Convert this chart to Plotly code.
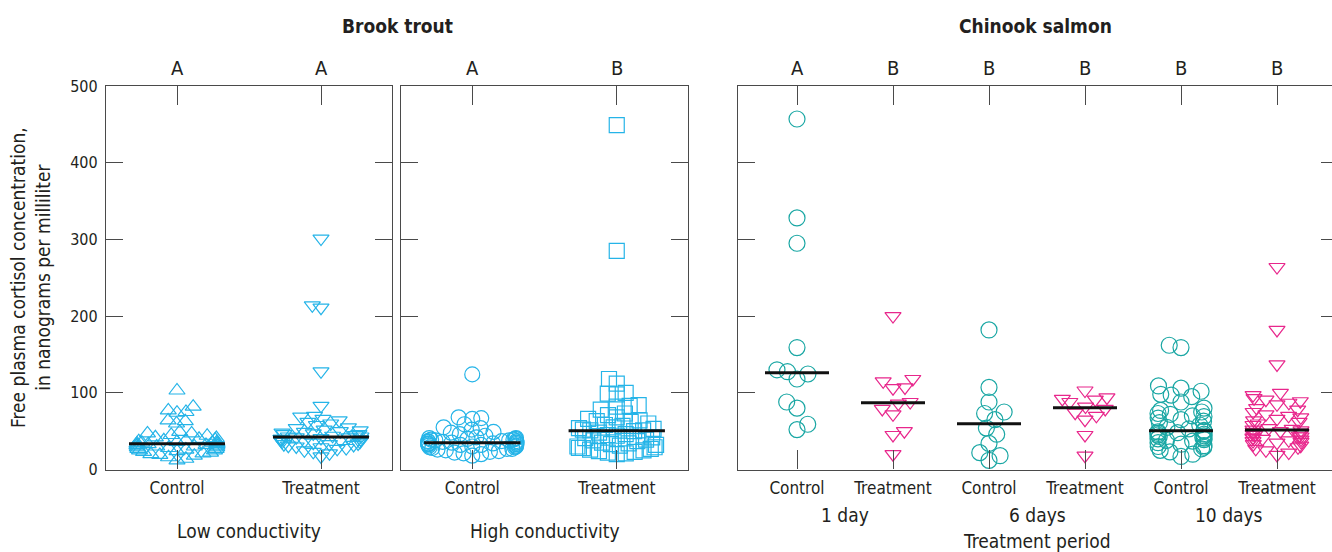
import numpy as np
import plotly.graph_objects as go

# ---------------- data ----------------
treatment_labels = ["Control", "Treatment"]
yticks = [0, 100, 200, 300, 400, 500]

# Brook trout, low conductivity
bt_low_control = [103, 82, 77, 75, 74, 64, 63, 60, 49, 47, 47, 45, 44, 42, 41, 40, 39, 38,
                  38, 37, 36, 36, 35, 35, 34, 34, 33, 33, 32, 32, 31, 31, 30, 30, 29, 29,
                  28, 27, 27, 26, 25, 25, 24, 23, 22, 21, 20, 19, 18, 16, 14, 12]
bt_low_treatment = [301, 214, 211, 128, 83, 70, 69, 66, 64, 62, 60, 58, 55, 54, 52, 51, 50,
                    49, 48, 47, 46, 46, 45, 44, 43, 43, 42, 42, 41, 40, 40, 39, 39, 38, 38,
                    37, 36, 36, 35, 34, 33, 33, 32, 31, 30, 29, 28, 27, 25, 23, 21, 17]
# Brook trout, high conductivity
bt_high_control = [124, 68, 67, 66, 59, 55, 54, 52, 49, 48, 46, 44, 42, 41, 41, 40, 40, 39,
                   39, 38, 38, 37, 37, 37, 36, 36, 35, 35, 35, 34, 34, 33, 33, 33, 32, 32,
                   31, 31, 30, 30, 29, 29, 28, 27, 27, 26, 25, 24, 23, 22, 21, 20, 18]
bt_high_treatment = [449, 285, 118, 112, 100, 99, 98, 84, 83, 82, 78, 73, 71, 68, 66, 64, 63,
                     62, 60, 58, 57, 55, 54, 53, 52, 51, 51, 50, 48, 46, 45, 44, 42, 41, 39,
                     38, 37, 35, 34, 33, 32, 31, 30, 29, 28, 28, 27, 26, 25, 24, 23, 22, 21, 20]
bt_low_letters = ["A", "A"]
bt_high_letters = ["A", "B"]

# Chinook salmon, by treatment period
ck_periods = ["1 day", "6 days", "10 days"]
ck_1d_control = [457, 328, 295, 159, 130, 127.5, 124.5, 118, 88, 80, 59, 52]
ck_1d_treatment = [200, 118, 115, 107, 106, 88, 86, 79, 72, 50, 45, 20]
ck_6d_control = [182, 107, 88, 75, 73, 65, 54, 46, 34, 22, 18, 12]
ck_6d_treatment = [103, 94, 92, 91, 88, 82, 79, 74, 70, 65, 45, 18]
ck_10d_control = [162, 159, 109, 106, 102, 98, 97, 95, 88, 80, 77, 75, 73, 72, 70, 69, 67,
                  65, 63, 61, 58, 55, 53, 51, 50, 49, 48, 47, 46, 45, 44, 43, 42, 41, 40,
                  39, 38, 37, 35, 33, 31, 30, 29, 27, 25, 23, 20, 17]
ck_10d_treatment = [264, 182, 137, 100, 97, 93, 91, 89, 87, 85, 80, 78, 75, 72, 70, 68, 66,
                    64, 62, 60, 58, 54, 53, 52, 51, 50, 49, 48, 47, 46, 45, 44, 43, 42, 41,
                    40, 39, 38, 37, 36, 35, 33, 31, 29, 27, 25, 22, 19]
ck_letters = ["A", "B", "B", "B", "B", "B"]

# ---------------- styling / layout ----------------
W, H = 1332, 552
FONT = "Liberation Sans Narrow, DejaVu Sans Condensed, Arial Narrow, sans-serif"
TXT = "#231f20"
AX = "#4a4a4a"
BLUE = "#25b4e8"
TEAL = "#1aa7a4"
MAGENTA = "#e8278c"

P1 = (106, 392)
P2 = (401, 688)
P3 = (738, 1332)
Y_TOP, Y_BOT = 86, 469.5
ypx = (Y_BOT - Y_TOP) / 500.0


def swarm(values, px_per_x, d, max_px):
    """Beeswarm offsets (x data units): markers keep >= d px apart; the swarm
    then saturates softly at max_px from the category centre."""
    vals = np.asarray(values, float)
    order = np.argsort(vals, kind="stable")
    px_list, py_list = [], []
    offs = np.zeros(len(vals))
    flip = 1
    for i in order:
        y = vals[i] * ypx
        cands = [0.0]
        for px, py in zip(px_list, py_list):
            dy = y - py
            if abs(dy) < d:
                dx = np.sqrt(d * d - dy * dy)
                cands += [px + dx, px - dx]
        cands.sort(key=lambda c: (round(abs(c), 6), -flip * c))
        chosen = 0.0
        for c in cands:
            if all((c - px) ** 2 + (y - py) ** 2 >= d * d - 1e-6
                   for px, py in zip(px_list, py_list)):
                chosen = c
                break
        if chosen != 0:
            flip = -flip
        px_list.append(chosen)
        py_list.append(y)
        offs[i] = chosen
    knee = 0.6 * max_px
    a = np.abs(offs)
    soft = np.where(a <= knee, a, knee + (max_px - knee) * np.tanh((a - knee) / (max_px - knee)))
    return np.sign(offs) * soft / px_per_x


fig = go.Figure()

bt_scale = (P1[1] - P1[0]) / (1 + 2 * 71 / 144)
ck_scale = 96.0


def add_group(vals, pos, xa, ya, symbol, color, size, scale, d, max_px):
    offs = swarm(vals, scale, d, max_px)
    fig.add_trace(go.Scatter(
        x=pos + offs, y=vals, mode="markers", xaxis=xa, yaxis=ya,
        marker=dict(symbol=symbol, size=size, color=color,
                    line=dict(color=color, width=1.2)),
        hoverinfo="y", showlegend=False))
    return (pos, float(np.median(vals)), xa, ya)


medians = []
medians.append(add_group(bt_low_control, 0, "x", "y", "triangle-up-open", BLUE, 14, bt_scale, 9.0, 40))
medians.append(add_group(bt_low_treatment, 1, "x", "y", "triangle-down-open", BLUE, 14, bt_scale, 9.0, 40))
medians.append(add_group(bt_high_control, 0, "x2", "y2", "circle-open", BLUE, 15, bt_scale, 9.0, 44))
medians.append(add_group(bt_high_treatment, 1, "x2", "y2", "square-open", BLUE, 15, bt_scale, 9.0, 40))

ck_groups = [ck_1d_control, ck_1d_treatment, ck_6d_control, ck_6d_treatment,
             ck_10d_control, ck_10d_treatment]
for k, vals in enumerate(ck_groups):
    if k % 2 == 0:
        medians.append(add_group(vals, k, "x3", "y3", "circle-open", TEAL, 16, ck_scale, 12.0, 23))
    else:
        medians.append(add_group(vals, k, "x3", "y3", "triangle-down-open", MAGENTA, 14, ck_scale, 12.0, 24))

HALF = 1 / 3
for pos, med, xa, ya in medians:
    fig.add_trace(go.Scatter(x=[pos - HALF, pos + HALF], y=[med, med], mode="lines",
                             xaxis=xa, yaxis=ya, line=dict(color="#111111", width=3),
                             hoverinfo="skip", showlegend=False))

# invisible trace to register the right-hand tick axis of the Chinook panel
fig.add_trace(go.Scatter(x=[0], y=[0], xaxis="x3", yaxis="y4", mode="markers",
                         marker=dict(opacity=0), hoverinfo="skip", showlegend=False))

ydom = [(H - Y_BOT) / H, (H - Y_TOP) / H]
common_x = dict(showgrid=False, zeroline=False, showline=True, linecolor=AX, linewidth=1.3,
                ticks="inside", ticklen=19, tickcolor=AX, tickwidth=1.3, mirror="ticks",
                tickfont=dict(family=FONT, size=17, color=TXT), fixedrange=True,
                automargin=False, ticklabelstandoff=3)
common_y = dict(showgrid=False, zeroline=False, showline=True, linecolor=AX, linewidth=1.3,
                ticks="inside", ticklen=17, tickcolor=AX, tickwidth=1.3, range=[0, 500],
                tickvals=yticks, domain=ydom, fixedrange=True, automargin=False,
                tickfont=dict(family=FONT, size=16, color=TXT))

bt_pad = 71 / 144
ck_left = (P3[0] - 797) / 96.0
ck_right = 5 + (P3[1] - 1277) / 96.0

fig.update_layout(
    width=W, height=H, margin=dict(l=0, r=0, t=0, b=0, pad=0, autoexpand=False),
    paper_bgcolor="white", plot_bgcolor="white", showlegend=False,
    xaxis=dict(common_x, domain=[P1[0] / W, P1[1] / W], range=[-bt_pad, 1 + bt_pad],
               tickvals=[0, 1], ticktext=treatment_labels, anchor="y"),
    yaxis=dict(common_y, mirror="ticks", anchor="x", ticklabelstandoff=4),
    xaxis2=dict(common_x, domain=[P2[0] / W, P2[1] / W], range=[-bt_pad, 1 + bt_pad],
                tickvals=[0, 1], ticktext=treatment_labels, anchor="y2"),
    yaxis2=dict(common_y, mirror="ticks", anchor="x2", showticklabels=False),
    xaxis3=dict(common_x, domain=[P3[0] / W, 1.0], range=[ck_left, ck_right],
                tickvals=list(range(6)), ticktext=treatment_labels * 3, anchor="y3"),
    yaxis3=dict(common_y, mirror=False, anchor="x3", showticklabels=False),
    yaxis4=dict(common_y, overlaying="y3", side="right", anchor="free", position=1.0,
                showline=False, showticklabels=False, ticklen=11),
)

ann = []
def add_text(text, x, y, size, xref="paper", bold=False, angle=0):
    ann.append(dict(text=f"<b>{text}</b>" if bold else text, x=x if xref != "paper" else x / W,
                    y=(H - y) / H, xref=xref, yref="paper", showarrow=False,
                    xanchor="center", yanchor="middle", textangle=angle,
                    font=dict(family=FONT, size=size, color=TXT)))

add_text("Brook trout", (P1[0] + P2[1]) / 2, 26, 19, bold=True)
add_text("Chinook salmon", 1035, 26, 19, bold=True)
for i, l in enumerate(bt_low_letters):
    add_text(l, i, 68, 20, xref="x")
for i, l in enumerate(bt_high_letters):
    add_text(l, i, 68, 20, xref="x2")
for i, l in enumerate(ck_letters):
    add_text(l, i, 68, 20, xref="x3")
add_text("Low conductivity", (P1[0] + P1[1]) / 2, 531, 19)
add_text("High conductivity", (P2[0] + P2[1]) / 2, 531, 19)
for i, p in enumerate(ck_periods):
    add_text(p, 2 * i + 0.5, 515, 19, xref="x3")
add_text("Treatment period", 2.5, 541, 19, xref="x3")
add_text("Free plasma cortisol concentration,<br>in nanograms per milliliter", 30, 278, 19, angle=-90)
fig.update_layout(annotations=ann)

fig.write_html("out.html")
